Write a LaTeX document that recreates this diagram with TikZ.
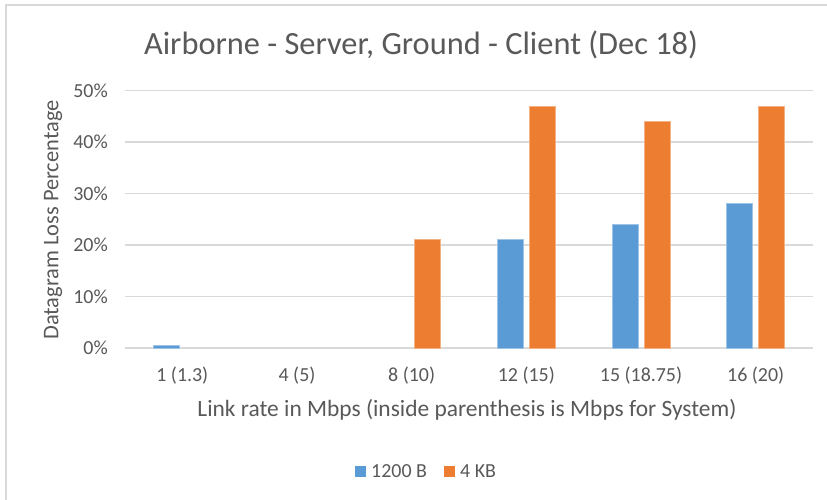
\documentclass[tikz,border=0pt]{standalone}
\usepackage{fontspec}
\setmainfont{Carlito}
\definecolor{txt}{HTML}{595959}
\definecolor{grid}{HTML}{D9D9D9}
\definecolor{sblue}{HTML}{5B9BD5}
\definecolor{sorange}{HTML}{ED7D31}
\begin{document}
\begin{tikzpicture}[x=1bp,y=-1bp,
  gridline/.style={draw=grid,line width=1.5bp},
  ticklab/.style={text=txt,font=\fontsize{20}{24}\selectfont,inner sep=0pt},
  axtitle/.style={text=txt,font=\fontsize{22.5}{27}\selectfont,inner sep=0pt},
  barb/.style={fill=sblue,draw=sblue!60!white,line width=0.8bp},
  baro/.style={fill=sorange,draw=sorange!60!white,line width=0.8bp},
  legsq/.style={minimum width=11bp,minimum height=11bp,inner sep=0pt}]
\useasboundingbox (0,0) rectangle (827,500);
\fill[white] (0,0) rectangle (827,500);
% chart frame
\draw[grid,line width=2bp] (6,500) -- (6,5) -- (827,5);
% title
\node[text=txt,font=\fontsize{32.5}{38}\selectfont,inner sep=0pt] (title) at (421,45) {Airborne - Server, Ground - Client (Dec 18)};
% gridlines and y labels
\foreach \v/\lab in {0/0\%,10/10\%,20/20\%,30/30\%,40/40\%,50/50\%}{
  \coordinate (gl\v) at (125,{348-\v*5.15});
  \coordinate (gr\v) at (813,{348-\v*5.15});
  \draw[gridline] (gl\v) -- (gr\v);
  \node[ticklab,anchor=east] (yl\v) at (108,{348-\v*5.15}) {\lab};
}
% bars
\foreach \c/\b/\o [count=\i from 0] in {0/0.5/0,1/0/0,2/0/21,3/21/47,4/24/44,5/28/47}{
  \pgfmathsetmacro{\cx}{125+114.667*(\i+0.5)}
  \ifdim \b pt>0pt
    \draw[barb] ({\cx-29},348) rectangle ({\cx-3},{348-\b*5.15});
  \fi
  \ifdim \o pt>0pt
    \draw[baro] ({\cx+3},348) rectangle ({\cx+29},{348-\o*5.15});
  \fi
}
% x labels
\foreach \lab [count=\i from 0] in {1 (1.3),4 (5),8 (10),12 (15),15 (18.75),16 (20)}{
  \node[ticklab] (xl\i) at ({125+114.667*(\i+0.5)},376) {\lab};
}
% axis titles
\node[axtitle,font=\fontsize{23.5}{28}\selectfont] (xtitle) at (467,410) {Link rate in Mbps (inside parenthesis is Mbps for System)};
\node[axtitle,rotate=90] (ytitle) at (53,220) {Datagram Loss Percentage};
% legend
\node[legsq,fill=sblue] (lb) at (360.5,471) {};
\node[ticklab,anchor=west] (lbt) at (371,471) {1200 B};
\node[legsq,fill=sorange] (lo) at (449.5,471) {};
\node[ticklab,anchor=west] (lot) at (460,471) {4 KB};
\end{tikzpicture}
\end{document}
